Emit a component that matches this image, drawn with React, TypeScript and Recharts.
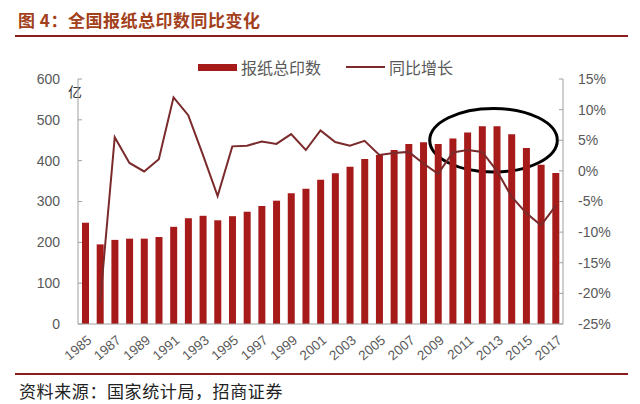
import React from 'react';
import {
  ComposedChart,
  Bar,
  Line,
  XAxis,
  YAxis,
  ReferenceArea,
} from 'recharts';

const years = [
  '1985', '1986', '1987', '1988', '1989', '1990', '1991', '1992', '1993', '1994', '1995',
  '1996', '1997', '1998', '1999', '2000', '2001', '2002', '2003', '2004', '2005', '2006',
  '2007', '2008', '2009', '2010', '2011', '2012', '2013', '2014', '2015', '2016', '2017',
];

// 报纸总印数 (亿份)
const printTotal = [
  248, 195, 206, 209, 209, 213, 238, 259, 265, 254, 264,
  275, 289, 302, 320, 331, 353, 369, 385, 404, 414, 426,
  441, 445, 441, 454, 469, 484, 484, 465, 431, 390, 370,
];

// 同比增长 (%)
const yoyGrowth = [
  null, -21.5, 5.5, 1.3, -0.1, 1.9, 12.0, 9.1, 2.6, -4.1, 4.0,
  4.1, 4.8, 4.4, 6.0, 3.4, 6.6, 4.7, 4.1, 4.9, 2.6, 2.9,
  3.1, 1.2, -0.5, 3.0, 3.4, 3.1, 0.0, -4.2, -6.9, -8.9, -5.7,
];

const leftTicks = [0, 100, 200, 300, 400, 500, 600];
const rightTicks = [-25, -20, -15, -10, -5, 0, 5, 10, 15];

const data = years.map((year, i) => ({
  year,
  total: printTotal[i],
  yoy: yoyGrowth[i],
}));

const BAR_COLOR = '#A61A1A';
const LINE_COLOR = '#7A2A2A';
const AXIS_COLOR = '#A0A0A0';
const TEXT_COLOR = '#595959';
const FONT = 'Liberation Sans, Arial, sans-serif';
const CJK = '"Noto Sans CJK SC", sans-serif';

const LeftTick = (props: any) => {
  const { x, y, payload } = props;
  return (
    <g>
      <line x1={x + 18} x2={x + 22} y1={y} y2={y} stroke={AXIS_COLOR} />
      <text x={x} y={y} dy="0.35em" textAnchor="end" fill={TEXT_COLOR} fontSize={14} fontFamily={FONT}>
        {payload.value}
      </text>
    </g>
  );
};

const RightTick = (props: any) => {
  const { x, y, payload } = props;
  return (
    <g>
      <line x1={x - 15} x2={x - 19} y1={y} y2={y} stroke={AXIS_COLOR} />
      <text x={x} y={y} dy="0.35em" textAnchor="start" fill={TEXT_COLOR} fontSize={14} fontFamily={FONT}>
        {payload.value}%
      </text>
    </g>
  );
};

const YearTick = (props: any) => {
  const { x, y, payload } = props;
  return (
    <g transform={`translate(${x + 4}, ${y + 4})`}>
      <text
        x={0}
        y={0}
        dy="0.35em"
        textAnchor="end"
        transform="rotate(-40)"
        fill={TEXT_COLOR}
        fontSize={13.5}
        fontFamily={FONT}
      >
        {payload.value}
      </text>
    </g>
  );
};

// ellipse drawn inside the reference area box
const Ellipse = (props: any) => {
  const { x, y, width, height } = props;
  const cx = x + width / 2 + 4;
  const cy = y + height / 2;
  return (
    <ellipse cx={cx} cy={cy} rx={width / 2 + 5} ry={height / 2} fill="none" stroke="#000" strokeWidth={3} />
  );
};

const App: React.FC = () => {
  return (
    <div style={{ position: 'absolute', left: 0, top: 0, width: 640, height: 404, background: '#fff', overflow: 'hidden' }}>
      <div
        style={{
          position: 'absolute', left: 18, top: 7, fontFamily: CJK, fontWeight: 700,
          fontSize: 17, color: '#A3401C', whiteSpace: 'nowrap', letterSpacing: 0.5,
        }}
      >
        图 4：全国报纸总印数同比变化
      </div>
      <div style={{ position: 'absolute', left: 15, top: 35, width: 613, height: 2, background: '#8E1B1B' }} />

      {/* legend */}
      <div style={{ position: 'absolute', left: 198, top: 56, height: 22, display: 'flex', alignItems: 'center', fontFamily: CJK, fontSize: 16, color: TEXT_COLOR, whiteSpace: 'nowrap' }}>
        <span style={{ display: 'inline-block', width: 39, height: 7, background: BAR_COLOR, marginRight: 4 }} />
        <span>报纸总印数</span>
        <span style={{ display: 'inline-block', width: 39, height: 2, background: LINE_COLOR, marginLeft: 25, marginRight: 4 }} />
        <span>同比增长</span>
      </div>

      <div style={{ position: 'absolute', left: 68, top: 81, fontFamily: CJK, fontSize: 14, color: '#333' }}>亿</div>

      <div style={{ position: 'absolute', left: 0, top: 0 }}>
        <ComposedChart width={640} height={404} data={data} margin={{ top: 79, right: 17, bottom: 30, left: 18 }}>
          <XAxis
            dataKey="year"
            interval={1}
            height={50}
            tickSize={0}
            tickMargin={10}
            tickLine={false}
            axisLine={{ stroke: AXIS_COLOR }}
            tick={<YearTick />}
          />
          <YAxis
            yAxisId="left"
            orientation="left"
            width={60}
            domain={[0, 600]}
            ticks={leftTicks}
            tickSize={0}
            tickMargin={18}
            tickLine={false}
            axisLine={{ stroke: AXIS_COLOR }}
            tick={<LeftTick />}
          />
          <YAxis
            yAxisId="right"
            orientation="right"
            width={60}
            domain={[-25, 15]}
            ticks={rightTicks}
            tickSize={0}
            tickMargin={15}
            tickLine={false}
            axisLine={{ stroke: AXIS_COLOR }}
            tick={<RightTick />}
          />
          <Bar yAxisId="left" dataKey="total" name="报纸总印数" fill={BAR_COLOR} barSize={7} isAnimationActive={false} />
          <Line
            yAxisId="right"
            dataKey="yoy"
            name="同比增长"
            type="linear"
            stroke={LINE_COLOR}
            strokeWidth={2}
            dot={false}
            activeDot={false}
            isAnimationActive={false}
          />
          <ReferenceArea
            yAxisId="right"
            x1="2009"
            x2="2016"
            y1={-0.2}
            y2={10.2}
            ifOverflow="visible"
            shape={<Ellipse />}
          />
        </ComposedChart>
      </div>

      <div style={{ position: 'absolute', left: 15, top: 373, width: 613, height: 2, background: '#8E1B1B' }} />
      <div style={{ position: 'absolute', left: 19, top: 378, fontFamily: CJK, fontSize: 17, color: '#222', whiteSpace: 'nowrap', letterSpacing: 0.6 }}>
        资料来源：国家统计局，招商证券
      </div>
    </div>
  );
};

export default App;
